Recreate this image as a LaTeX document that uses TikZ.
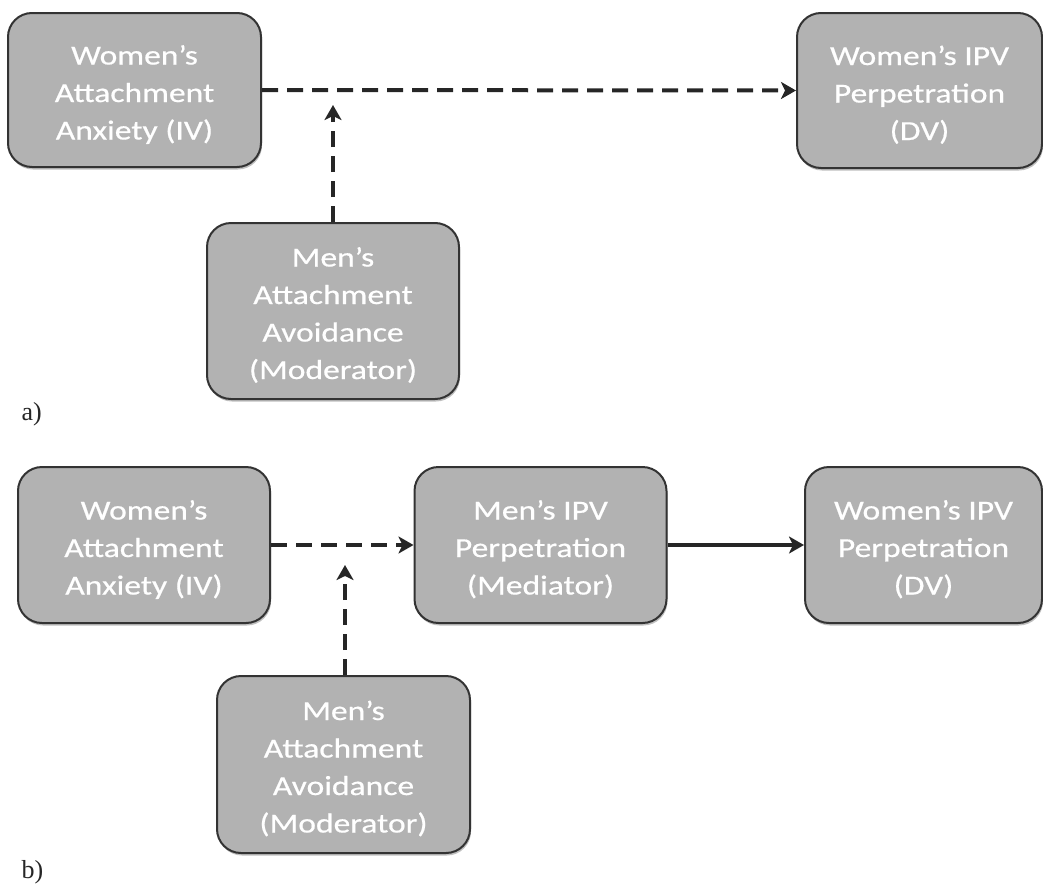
\documentclass[tikz,border=0pt]{standalone}
\usepackage{fontspec}
\setmainfont{Carlito}
\newfontfamily\boxfont[FakeStretch=1.22,FakeBold=0.6]{Carlito}
\newfontfamily\labelfont{Liberation Serif}
\usetikzlibrary{arrows.meta,shadows}
\begin{document}
\begin{tikzpicture}[x=1pt,y=-1pt,
  varbox/.style={draw=black!80,line width=2pt,fill=black!30,rounded corners=24pt,
    text=white,align=center,inner sep=0pt,
    font=\boxfont\fontsize{27.5}{37.5}\selectfont,
    drop shadow={shadow xshift=1pt,shadow yshift=-2.5pt,opacity=0.25,fill=black}},
  threeline/.style={varbox,text depth=0pt,text height=99pt},
  fourline/.style={varbox,text depth=0pt,text height=136pt},
  link/.style={line width=4pt,draw=black!85,-{Stealth[length=15pt,width=17pt,inset=4pt]}},
  modlink/.style={link,dash pattern=on 16pt off 9pt},
  panel/.style={font=\labelfont\fontsize{26}{30}\selectfont,anchor=base west,text=black!85}]
\useasboundingbox (0,0) rectangle (1043,886);

% Panel a: moderation model
\node[threeline,minimum width=253pt,minimum height=154pt] (aiv) at (134.5,90)
  {Women’s\\Attachment\\Anxiety (IV)};
\node[threeline,minimum width=245pt,minimum height=155pt] (adv) at (919.5,90.5)
  {Women’s IPV\\Perpetration\\(DV)};
\node[fourline,minimum width=252pt,minimum height=176pt] (amod) at (333,311)
  {Men’s\\Attachment\\Avoidance\\(Moderator)};
\coordinate (ajoin) at (333,105);
\draw[modlink] (aiv.east) -- (adv.west);
\draw[modlink] (amod.north) -- (ajoin);
\node[panel] (alab) at (18,420) {a)};

% Panel b: moderated mediation model
\node[threeline,minimum width=252pt,minimum height=156pt] (biv) at (144,545)
  {Women’s\\Attachment\\Anxiety (IV)};
\node[threeline,minimum width=252pt,minimum height=156pt] (bmed) at (540.5,545)
  {Men’s IPV\\Perpetration\\(Mediator)};
\node[threeline,minimum width=237pt,minimum height=156pt] (bdv) at (923.5,545)
  {Women’s IPV\\Perpetration\\(DV)};
\node[fourline,minimum width=253pt,minimum height=177pt] (bmod) at (343.5,764.5)
  {Men’s\\Attachment\\Avoidance\\(Moderator)};
\coordinate (bjoin) at (345,565);
\draw[modlink] (biv.east) -- (bmed.west);
\draw[link] (bmed.east) -- (bdv.west);
\draw[modlink] (bmod.north -| bjoin) -- (bjoin);
\node[panel] (blab) at (18,878) {b)};
\end{tikzpicture}
\end{document}
